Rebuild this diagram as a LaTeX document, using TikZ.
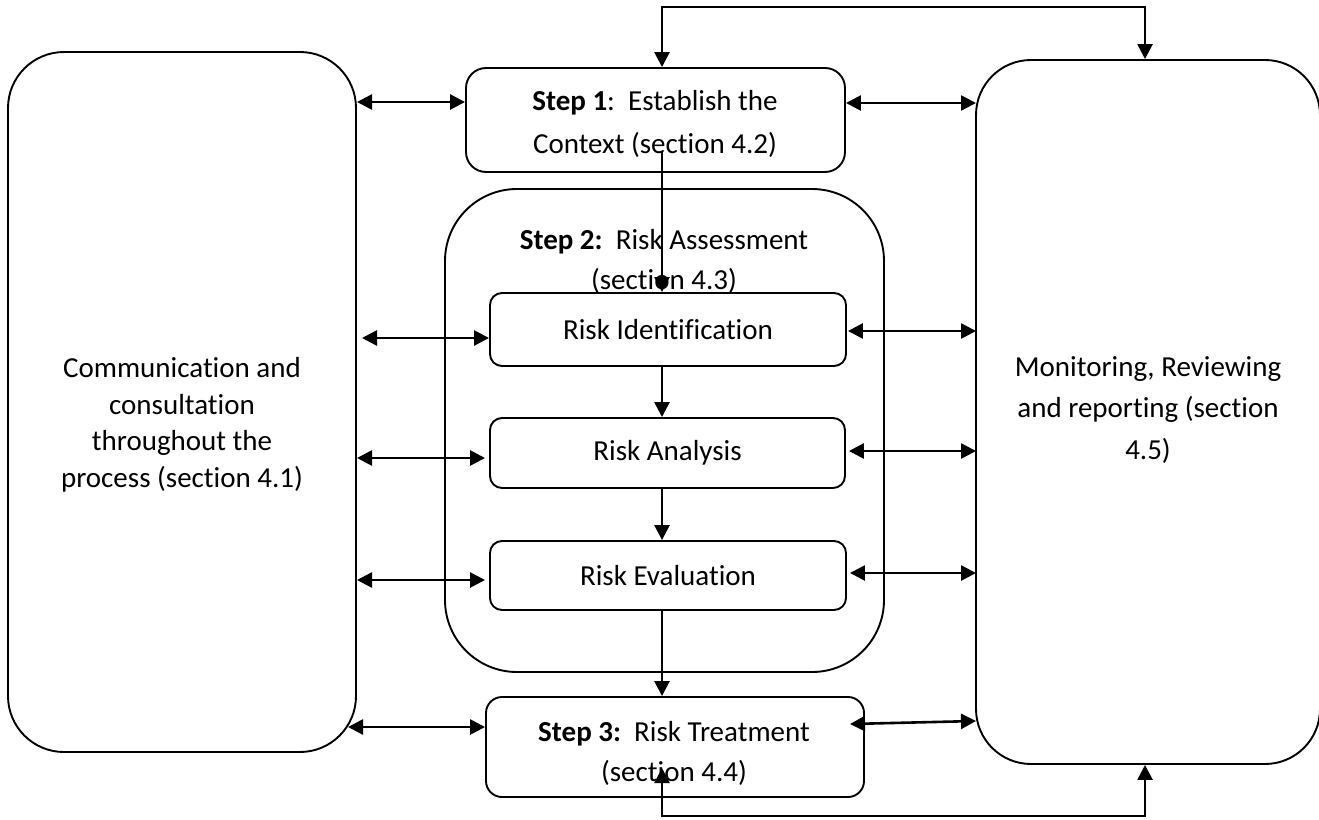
\documentclass[tikz,border=0pt]{standalone}
\usepackage{fontspec}
\setmainfont{Carlito}[Ligatures=NoCommon]
\usetikzlibrary{arrows.meta,calc}
\begin{document}
\begin{tikzpicture}[x=1pt,y=-1pt,
  box/.style={draw,line width=1.9pt,inner sep=0pt,align=center,
    font=\fontsize{29}{41}\selectfont},
  lbl/.style={inner sep=0pt,align=center},
  dbl/.style={line width=2.6pt,{Triangle[length=15pt,width=15pt]}-{Triangle[length=15pt,width=15pt]}},
  one/.style={line width=2.6pt,-{Triangle[length=15pt,width=15pt]}}]
\useasboundingbox (0,0) rectangle (1319,819);
% boxes
\node[box,rounded corners=56pt,minimum width=348pt,minimum height=700pt] (lbox) at (182,402) {};
\node[box,rounded corners=55pt,minimum width=344pt,minimum height=704pt] (rbox) at (1148,412) {};
\node[box,rounded corners=20pt,minimum width=379pt,minimum height=104pt] (s1) at (655.5,120) {};
\node[box,rounded corners=72pt,minimum width=439pt,minimum height=483pt] (s2) at (664.5,430.5) {};
\node[box,rounded corners=12pt,minimum width=356pt,minimum height=73pt] (ri) at (668,329.5) {Risk Identification};
\node[box,rounded corners=12pt,minimum width=355pt,minimum height=70pt] (ra) at (667.5,453) {Risk Analysis};
\node[box,rounded corners=12pt,minimum width=356pt,minimum height=69pt] (rev) at (668,575.5) {Risk Evaluation};
\node[box,rounded corners=16pt,minimum width=378pt,minimum height=100pt] (s3) at (675,747) {};
% labels
\node[lbl,font=\fontsize{29}{36.5}\selectfont] (tl) at (182,425) {Communication and\\consultation\\throughout the\\process (section 4.1)};
\node[lbl,font=\fontsize{29}{41.5}\selectfont] (tr) at (1148,410) {Monitoring, Reviewing\\and reporting (section\\4.5)};
\node[lbl,font=\fontsize{29}{43}\selectfont] (t1) at (655,124) {\textbf{Step 1}:\ \ Establish the\\Context (section 4.2)};
\node[lbl,font=\fontsize{29}{40}\selectfont] (t2) at (664,261) {\textbf{Step 2:}\ \ Risk Assessment\\(section 4.3)};
\node[lbl,font=\fontsize{29}{40}\selectfont] (t3) at (674,753) {\textbf{Step 3:}\ \ Risk Treatment\\(section 4.4)};
% coordinates
\coordinate (col) at (662,0);
\coordinate (topA) at (662,7);
\coordinate (topB) at (1145,7);
\coordinate (s1in) at (662,152);
\coordinate (s3in) at (662,768);
\coordinate (botA) at (662,816);
\coordinate (botB) at (1145,816);
\coordinate (L1) at (357,102);
\coordinate (L2) at (362,338);
\coordinate (L3) at (357,458);
\coordinate (L4) at (357,580);
\coordinate (L5) at (348,727);
\coordinate (R1) at (976,103);
\coordinate (R2) at (976,331);
\coordinate (R3) at (976,451);
\coordinate (R4) at (976,573);
\coordinate (R5a) at (850,724);
\coordinate (R5b) at (976,721);
% top and bottom loops
\draw[dbl] (topA |- s1.north) -- (topA) -- (topB) -- (topB |- rbox.north);
\draw[dbl] (s3in) -- (botA) -- (botB) -- (botB |- rbox.south);
% vertical flow
\draw[one] (s1in) -- (s1in |- ri.north);
\draw[one] (ri.south -| col) -- (ra.north -| col);
\draw[one] (ra.south -| col) -- (rev.north -| col);
\draw[one] (rev.south -| col) -- (s3.north -| col);
% left exchanges
\draw[dbl] (L1) -- (L1 -| s1.west);
\draw[dbl] (L2) -- (L2 -| ri.west);
\draw[dbl] (L3) -- ($(L3 -| ra.west)+(-4,0)$);
\draw[dbl] (L4) -- ($(L4 -| rev.west)+(-4,0)$);
\draw[dbl] (L5) -- (L5 -| s3.west);
% right exchanges
\draw[dbl] (R1 -| s1.east) -- (R1);
\draw[dbl] ($(R2 -| ri.east)+(1,0)$) -- (R2);
\draw[dbl] ($(R3 -| ra.east)+(3,0)$) -- (R3);
\draw[dbl] ($(R4 -| rev.east)+(3,0)$) -- (R4);
\draw[dbl] (R5a) -- (R5b);
\end{tikzpicture}
\end{document}
